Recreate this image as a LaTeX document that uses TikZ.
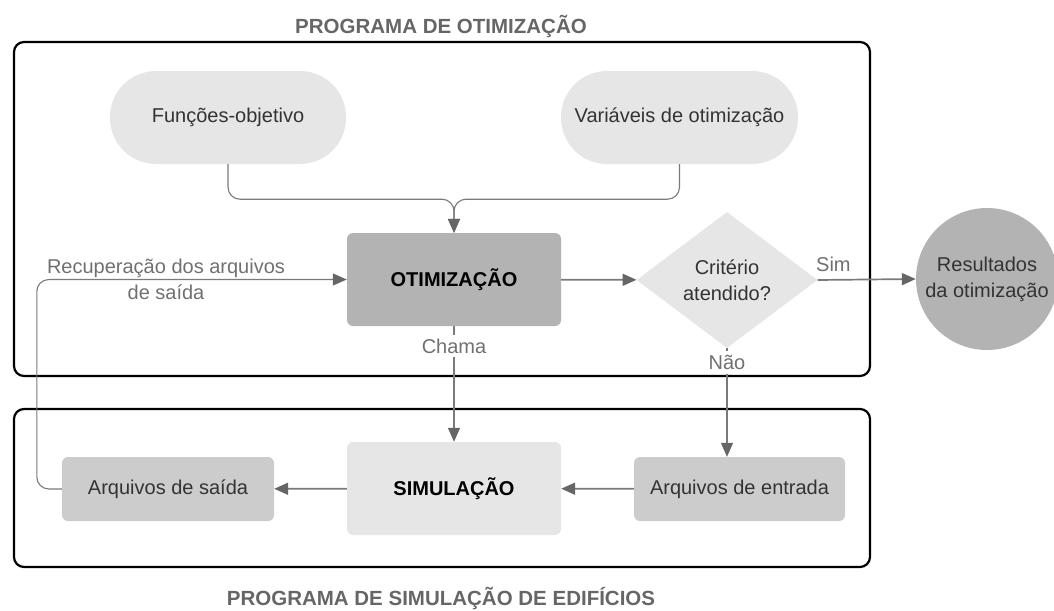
\documentclass[tikz,border=0pt]{standalone}
\usepackage{fontspec}
\setmainfont{Liberation Sans}
\usepackage{tikz}
\usetikzlibrary{arrows.meta}
\usetikzlibrary{shapes.geometric}

\definecolor{lightgrey}{HTML}{E6E6E6}
\definecolor{midgrey}{HTML}{CCCCCC}
\definecolor{darkgrey}{HTML}{B3B3B3}
\definecolor{linegrey}{HTML}{7A7A7A}
\definecolor{tipgrey}{HTML}{666666}
\definecolor{labelgrey}{HTML}{707070}
\definecolor{textgrey}{HTML}{333333}

\begin{document}
\begin{tikzpicture}[x=1pt, y=-1pt,
    font=\fontsize{20}{26}\selectfont, text=textgrey,
    box/.style={rectangle, rounded corners=6pt, inner sep=0pt, align=center},
    conn/.style={draw=linegrey, line width=1.7pt, -{Triangle[length=14pt, width=12pt, color=tipgrey]}},
    thinconn/.style={conn, line width=1.1pt},
    lbl/.style={text=labelgrey, inner sep=4pt},
    titulo/.style={text=tipgrey, font=\fontsize{20.5}{26}\selectfont\bfseries}]
    \def \frad {10pt}

    \useasboundingbox (0,0) rectangle (1054,610);

    \draw [black, line width=2.2pt, rounded corners=\frad] (14,42) rectangle (870,376);
    \draw [black, line width=2.2pt, rounded corners=\frad] (14,409) rectangle (870,567);

    \node [titulo] (t1) at (441,27) {PROGRAMA DE OTIMIZAÇÃO};
    \node [titulo] (t2) at (441,598) {PROGRAMA DE SIMULAÇÃO DE EDIFÍCIOS};

    \node [box, fill=lightgrey, rounded corners=46pt, minimum width=236pt, minimum height=93pt] (fo) at (228,117.5) {Funções-objetivo};
    \node [box, fill=lightgrey, rounded corners=46pt, minimum width=237pt, minimum height=93pt] (vo) at (679.5,117.5) {Variáveis de otimização};

    \node [box, fill=darkgrey, minimum width=214pt, minimum height=93pt, text=black, font=\fontsize{20}{26}\selectfont\bfseries] (ot) at (454,279.5) {OTIMIZAÇÃO};
    \node [diamond, fill=lightgrey, aspect=1.33, minimum width=181pt, minimum height=136pt, inner sep=0pt, align=center] (ca) at (727,280) {Critério\\atendido?};
    \node [circle, fill=darkgrey, minimum size=142pt, inner sep=0pt, align=center] (re) at (987,279) {Resultados\\da otimização};

    \node [box, fill=midgrey, minimum width=212pt, minimum height=64pt] (as) at (168,489) {Arquivos de saída};
    \node [box, fill=lightgrey, minimum width=214pt, minimum height=93pt, text=black, font=\fontsize{20}{26}\selectfont\bfseries] (si) at (454,488.5) {SIMULAÇÃO};
    \node [box, fill=midgrey, minimum width=211pt, minimum height=64pt] (ae) at (739.5,489) {Arquivos de entrada};

    \node [lbl, align=center] (rec) at (166,279) {Recuperação dos arquivos\\de saída};

    \draw [thinconn, rounded corners=12pt] (fo.south) -- ++(0,35) -| (ot.north);
    \draw [thinconn, rounded corners=12pt] (vo.south) -- ++(0,35) -| (ot.north);

    \draw [conn] (ot) -- (ca);
    \draw [conn] (ca.east) -- node [lbl, pos=0.16, above=3pt] (sim) {Sim} (re.west);

    \draw [conn, line width=1.3pt] (ot.south) -- node [lbl, fill=white, pos=0.17] (cha) {Chama} (si.north);
    \draw [conn, line width=1.3pt] (ca.south) -- node [lbl, fill=white, pos=0.13] (nao) {Não} (ca.south |- ae.north);

    \draw [conn] (si) -- (as);
    \draw [conn] (ae) -- (si);

    \draw [thinconn, rounded corners=12pt] (as.west) -- ++(-25,0) |- (ot.west);
\end{tikzpicture}
\end{document}
